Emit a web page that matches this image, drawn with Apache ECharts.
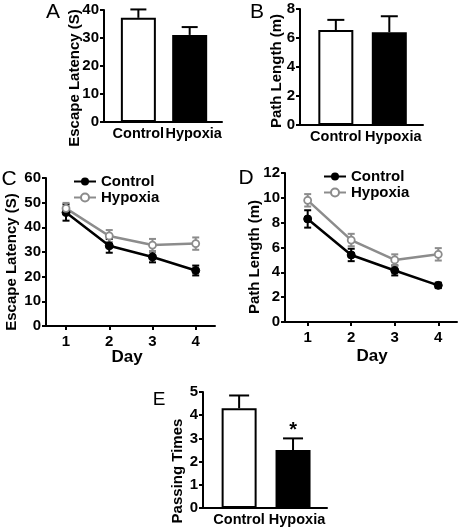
<!DOCTYPE html>
<html>
<head>
<meta charset="utf-8">
<script src="https://cdn.jsdelivr.net/npm/echarts@6/dist/echarts.min.js"></script>
<style>html,body{margin:0;padding:0;background:#fff}#c{width:461px;height:527px}</style>
</head>
<body>
<div id="c"></div>
<script>
// ---- data ----
const catsBar = ['Control', 'Hypoxia'];
const latencyA = [37.2, 31.1];
const latencyAErr = [3.0, 2.8];
const pathB = [6.55, 6.4];
const pathBErr = [0.7, 1.1];
const days = [1, 2, 3, 4];
const latencyControl = [46.0, 32.5, 28.0, 22.5];
const latencyControlErr = [3.3, 2.8, 2.2, 2.0];
const latencyHypoxia = [47.7, 36.5, 32.8, 33.4];
const latencyHypoxiaErr = [2.2, 2.4, 2.5, 2.5];
const pathControl = [8.3, 5.4, 4.15, 2.95];
const pathControlErr = [0.7, 0.5, 0.4, 0.22];
const pathHypoxia = [9.8, 6.6, 5.0, 5.45];
const pathHypoxiaErr = [0.5, 0.5, 0.45, 0.5];
const passing = [4.3, 2.5];
const passingErr = [0.55, 0.5];
const passingSig = ['', '*'];
const ticksA = [0, 10, 20, 30, 40];
const ticksB = [0, 2, 4, 6, 8];
const ticksC = [0, 10, 20, 30, 40, 50, 60];
const ticksD = [0, 2, 4, 6, 8, 10, 12];
const ticksE = [0, 1, 2, 3, 4, 5];

// ---- styling ----
const FONT = '"Liberation Sans", Arial, Helvetica, sans-serif';
const GRAY = '#8c8c8c';
const barPos = [1, 2];

function yAx(gi, ticks) {
  return {
    type: 'value', gridIndex: gi,
    min: ticks[0], max: ticks[ticks.length - 1], interval: ticks[1] - ticks[0],
    axisLine: { show: true, lineStyle: { color: '#000', width: 2 } },
    axisTick: { show: true, length: 4, lineStyle: { color: '#000', width: 2 } },
    splitLine: { show: false },
    axisLabel: {
      margin: 5, color: '#000', fontFamily: FONT, fontWeight: 'bold', fontSize: 15,
      formatter: v => '{t|' + v + '}',
      rich: { t: { color: '#000', fontFamily: FONT, fontWeight: 'bold', fontSize: 15 } }
    }
  };
}
function xBarAx(gi) {
  return {
    type: 'value', gridIndex: gi, min: 0.33, max: 2.63,
    axisLine: { show: true, onZero: false, lineStyle: { color: '#000', width: 2 } },
    axisTick: { show: false },
    splitLine: { show: false },
    axisLabel: {
      customValues: barPos, margin: 4,
      color: '#000', fontFamily: FONT, fontWeight: 'bold', fontSize: 14.5,
      formatter: v => (v === 2 ? '{h|' + catsBar[1] + '}' : '{c|' + catsBar[0] + '}'),
      rich: {
        c: { color: '#000', fontFamily: FONT, fontWeight: 'bold', fontSize: 14.5 },
        h: { color: '#000', fontFamily: FONT, fontWeight: 'bold', fontSize: 14.5, padding: [0, 0, 0, 8] }
      }
    }
  };
}
function xDayAx(gi, mn, mx) {
  return {
    type: 'value', gridIndex: gi, min: mn, max: mx,
    axisLine: { show: true, onZero: false, lineStyle: { color: '#000', width: 2 } },
    axisTick: { show: true, customValues: days, length: 4, lineStyle: { color: '#000', width: 2 } },
    splitLine: { show: false },
    axisLabel: { customValues: days, margin: 8, color: '#000', fontFamily: FONT, fontWeight: 'bold', fontSize: 15 }
  };
}
function barSeries(ai, vals) {
  return {
    type: 'bar', xAxisIndex: ai, yAxisIndex: ai, barWidth: 35, z: 2,
    data: vals.map((v, i) => ({
      value: [barPos[i], v],
      itemStyle: i === 0 ? { color: '#fff', borderColor: '#000', borderWidth: 2 } : { color: '#000', borderColor: '#000', borderWidth: 2 }
    }))
  };
}
function errSeries(ai, xs, vals, errs, capW, color, upOnly, sig) {
  return {
    type: 'custom', xAxisIndex: ai, yAxisIndex: ai, z: upOnly ? 3 : 1,
    data: vals.map((v, i) => [xs[i], v, errs[i]]),
    renderItem: (params, api) => {
      const x = api.value(0), m = api.value(1), e = api.value(2);
      const top = api.coord([x, m + e]);
      const mid = api.coord([x, m]);
      const bot = api.coord([x, m - e]);
      const st = { stroke: color, lineWidth: 2 };
      const ch = [
        { type: 'line', shape: { x1: top[0], y1: upOnly ? mid[1] : bot[1], x2: top[0], y2: top[1] }, style: st },
        { type: 'line', shape: { x1: top[0] - capW / 2, y1: top[1], x2: top[0] + capW / 2, y2: top[1] }, style: st }
      ];
      if (!upOnly) ch.push({ type: 'line', shape: { x1: bot[0] - capW / 2, y1: bot[1], x2: bot[0] + capW / 2, y2: bot[1] }, style: st });
      if (sig && sig[params.dataIndex]) {
        ch.push({ type: 'text', x: top[0], y: top[1] - 8,
          style: { text: sig[params.dataIndex], fill: '#000', font: 'bold 20px ' + FONT, textAlign: 'center', textVerticalAlign: 'middle' } });
      }
      return { type: 'group', children: ch };
    }
  };
}
function lineSeries(ai, name, vals, color, hollow) {
  return {
    type: 'line', name: name, xAxisIndex: ai, yAxisIndex: ai, z: 2,
    data: vals.map((v, i) => [days[i], v]),
    symbol: 'circle', symbolSize: hollow ? 7 : 8,
    lineStyle: { color: color, width: 2.5 },
    itemStyle: hollow ? { color: '#fff', borderColor: color, borderWidth: 1.8 } : { color: color, borderColor: color },
    emphasis: { disabled: true }
  };
}
function legend(left, top) {
  return {
    orient: 'vertical', left: left, top: top, padding: 0, itemGap: 1,
    itemWidth: 22, itemHeight: 10,
    data: ['Control', 'Hypoxia'],
    textStyle: { color: '#000', fontFamily: FONT, fontWeight: 'bold', fontSize: 15, lineHeight: 14 }
  };
}
function ytitle(x, y, t) {
  return { type: 'text', x: x, y: y, rotation: Math.PI / 2,
    style: { text: t, fill: '#000', font: 'bold 15px ' + FONT, textAlign: 'center', textVerticalAlign: 'middle' } };
}
function txt(x, y, t, font) {
  return { type: 'text', x: x, y: y,
    style: { text: t, fill: '#000', font: font, textAlign: 'center', textVerticalAlign: 'middle' } };
}

const option = {
  animation: false,
  backgroundColor: '#fff',
  grid: [
    { left: 104, top: 10, width: 118, height: 112 },
    { left: 300, top: 9, width: 123, height: 116 },
    { left: 46, top: 178, width: 169, height: 148 },
    { left: 285, top: 173, width: 172, height: 149 },
    { left: 203, top: 392, width: 124, height: 117 }
  ],
  xAxis: [xBarAx(0), xBarAx(1), xDayAx(2, 0.537, 4.446), xDayAx(3, 0.479, 4.43), xBarAx(4)],
  yAxis: [yAx(0, ticksA), yAx(1, ticksB), yAx(2, ticksC), yAx(3, ticksD), yAx(4, ticksE)],
  legend: [legend(73, 174), legend(323, 169)],
  series: [
    barSeries(0, latencyA),
    errSeries(0, barPos, latencyA, latencyAErr, 16, '#000', true),
    barSeries(1, pathB),
    errSeries(1, barPos, pathB, pathBErr, 17, '#000', true),
    errSeries(2, days, latencyControl, latencyControlErr, 7, '#000', false),
    errSeries(2, days, latencyHypoxia, latencyHypoxiaErr, 7, GRAY, false),
    lineSeries(2, 'Control', latencyControl, '#000', false),
    lineSeries(2, 'Hypoxia', latencyHypoxia, GRAY, true),
    errSeries(3, days, pathControl, pathControlErr, 7, '#000', false),
    errSeries(3, days, pathHypoxia, pathHypoxiaErr, 7, GRAY, false),
    lineSeries(3, 'Control', pathControl, '#000', false),
    lineSeries(3, 'Hypoxia', pathHypoxia, GRAY, true),
    barSeries(4, passing),
    errSeries(4, barPos, passing, passingErr, 20, '#000', true, passingSig)
  ],
  graphic: [
    ytitle(75, 78, 'Escape Latency (S)'),
    ytitle(277, 71, 'Path Length (m)'),
    ytitle(12, 262, 'Escape Latency (S)'),
    ytitle(255, 257, 'Path Length (m)'),
    ytitle(178, 471, 'Passing Times'),
    txt(127, 357, 'Day', 'bold 17px ' + FONT),
    txt(372, 356, 'Day', 'bold 17px ' + FONT),
    txt(53, 12, 'A', '21px ' + FONT),
    txt(257, 12, 'B', '21px ' + FONT),
    txt(9, 179, 'C', '21px ' + FONT),
    txt(246, 178, 'D', '21px ' + FONT),
    txt(159, 400, 'E', '19px ' + FONT)
  ]
};
const chart = echarts.init(document.getElementById('c'), null, { renderer: 'canvas' });
chart.setOption(option);
</script>
</body>
</html>
